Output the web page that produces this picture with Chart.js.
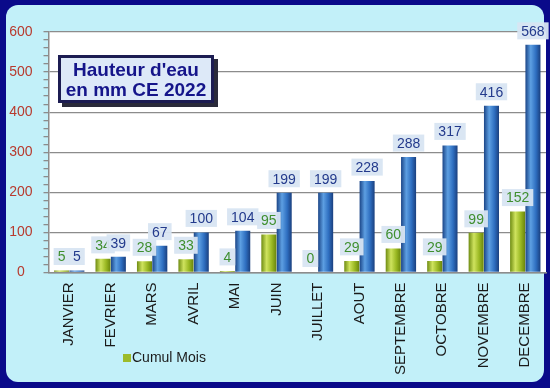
<!DOCTYPE html>
<html>
<head>
<meta charset="utf-8">
<script src="https://cdn.jsdelivr.net/npm/chart.js@4.4.1/dist/chart.umd.min.js"></script>
<style>
  html, body { margin: 0; padding: 0; }
  body { width: 550px; height: 388px; background: #0a0a8a; position: relative; overflow: hidden; }
  #panel { position: absolute; left: 6px; top: 5px; width: 538px; height: 377px; border-radius: 12px; background: #c2f0f9; }
  #chart { position: absolute; left: 0; top: 0; }
  #title {
    position: absolute; left: 58px; top: 55px; width: 150px; height: 40px; padding-top: 2px;
    border: 3px solid #1c1c52; box-shadow: 4px 4px 0 #2a2a3a; background: #dde9f8;
    font: bold 19px "Liberation Sans", Arial, sans-serif; line-height: 20px; color: #15158a; text-align: center;
    white-space: nowrap;
  }
</style>
</head>
<body>
<div id="panel"></div>
<canvas id="chart" width="550" height="388"></canvas>
<div id="title">Hauteur d'eau<br>en mm CE 2022</div>
<script>
const months = ['JANVIER', 'FEVRIER', 'MARS', 'AVRIL', 'MAI', 'JUIN', 'JUILLET', 'AOUT', 'SEPTEMBRE', 'OCTOBRE', 'NOVEMBRE', 'DECEMBRE']
const cumulMois = [5, 34, 28, 33, 4, 95, 0, 29, 60, 29, 99, 152]
const cumulAnnee = [5, 39, 67, 100, 104, 199, 199, 228, 288, 317, 416, 568]
const yMax = 600
const yMajor = 100
const yMinor = 20

const catPct = 0.74
const barPct = 0.98
const font = '"Liberation Sans", Arial, sans-serif'

// horizontal gradient so each bar looks like a cylinder
const cylinder = (stops) => (ctx) => {
    const chart = ctx.chart
    const xs = chart.scales.x
    if (ctx.type !== 'data' || !xs || !Number.isFinite(xs.width) || xs.width <= 0) return stops[2]
    const slot = xs.width / months.length * catPct / 2
    const cx = xs.getPixelForValue(ctx.dataIndex) + (ctx.datasetIndex - 0.5) * slot
    const half = slot * barPct / 2
    if (!Number.isFinite(cx)) return stops[2]
    const g = chart.ctx.createLinearGradient(cx - half, 0, cx + half, 0)
    g.addColorStop(0, stops[0])
    g.addColorStop(0.35, stops[1])
    g.addColorStop(0.7, stops[2])
    g.addColorStop(1, stops[3])
    return g
}

const frame = {
    id: 'frame',
    beforeDraw(chart) {
        const {ctx, chartArea: a} = chart
        ctx.save()
        ctx.fillStyle = '#ffffff'
        ctx.fillRect(a.left, a.top, a.right - a.left, a.bottom - a.top)
        ctx.restore()
    }
}

const valueLabels = {
    id: 'valueLabels',
    afterDatasetsDraw(chart) {
        const c = chart.ctx
        c.save()
        c.font = '14px ' + font
        c.textAlign = 'center'
        c.textBaseline = 'middle'
        chart.data.datasets.forEach((ds, i) => {
            chart.getDatasetMeta(i).data.forEach((bar, j) => {
                const txt = String(ds.data[j])
                const w = c.measureText(txt).width + 8
                const y = bar.y - 14
                c.fillStyle = 'rgba(216,229,242,0.95)'
                c.fillRect(bar.x - w / 2, y - 8.5, w, 17)
                c.fillStyle = ds.labelColor
                c.fillText(txt, bar.x, y + 1)
            })
        })
        c.restore()
    }
}

const legendBox = {
    id: 'legendBox',
    afterDraw(chart) {
        const c = chart.ctx
        c.save()
        c.fillStyle = '#9cbb2a'
        c.fillRect(123, 354, 8, 8)
        c.fillStyle = '#1a1a1a'
        c.font = '14px ' + font
        c.textBaseline = 'middle'
        c.fillText('Cumul Mois', 132, 358)
        c.restore()
    }
}

new Chart(document.getElementById('chart'), {
    type: 'bar',
    data: {
        labels: months,
        datasets: [{
            label: 'Cumul Mois',
            data: cumulMois,
            labelColor: '#3f8f2f',
            backgroundColor: cylinder(['#6f8c12', '#cfe35e', '#9ab822', '#6a850c']),
            categoryPercentage: catPct,
            barPercentage: barPct
        }, {
            label: 'Cumul',
            data: cumulAnnee,
            labelColor: '#233a8c',
            backgroundColor: cylinder(['#1b4587', '#5d9fe2', '#2e6ec0', '#1a3f7e']),
            categoryPercentage: catPct,
            barPercentage: barPct
        }]
    },
    options: {
        responsive: false,
        animation: false,
        layout: { padding: { left: 4, top: 32, right: 4, bottom: 0 } },
        plugins: { legend: { display: false }, tooltip: { enabled: false } },
        scales: {
            x: {
                grid: { display: false, drawTicks: false },
                border: { color: '#8c8c8c', width: 1.5 },
                ticks: {
                    minRotation: 90, maxRotation: 90, autoSkip: false, padding: 10,
                    color: '#1a1a1a', font: { family: font, size: 15 }
                },
                afterFit(s) { s.height = 115.5; s.paddingLeft = 0; s.paddingRight = 0 }
            },
            y: {
                min: 0, max: yMax,
                grid: {
                    color: (ctx) => ctx.tick && ctx.tick.value % yMajor === 0 ? '#8c8c8c' : 'rgba(0,0,0,0)',
                    tickColor: '#8c8c8c', tickLength: 5, lineWidth: 1.3
                },
                border: { color: '#8c8c8c', width: 1.5 },
                ticks: {
                    stepSize: yMinor, autoSkip: false, crossAlign: 'center', padding: 11,
                    color: '#b83a2e', font: { family: font, size: 14 },
                    callback: (v) => v % yMajor === 0 ? v : ''
                },
                afterFit(s) { s.width = 44.5; s.paddingTop = 0; s.paddingBottom = 0 }
            }
        }
    },
    plugins: [frame, valueLabels, legendBox]
});
</script>
</body>
</html>
